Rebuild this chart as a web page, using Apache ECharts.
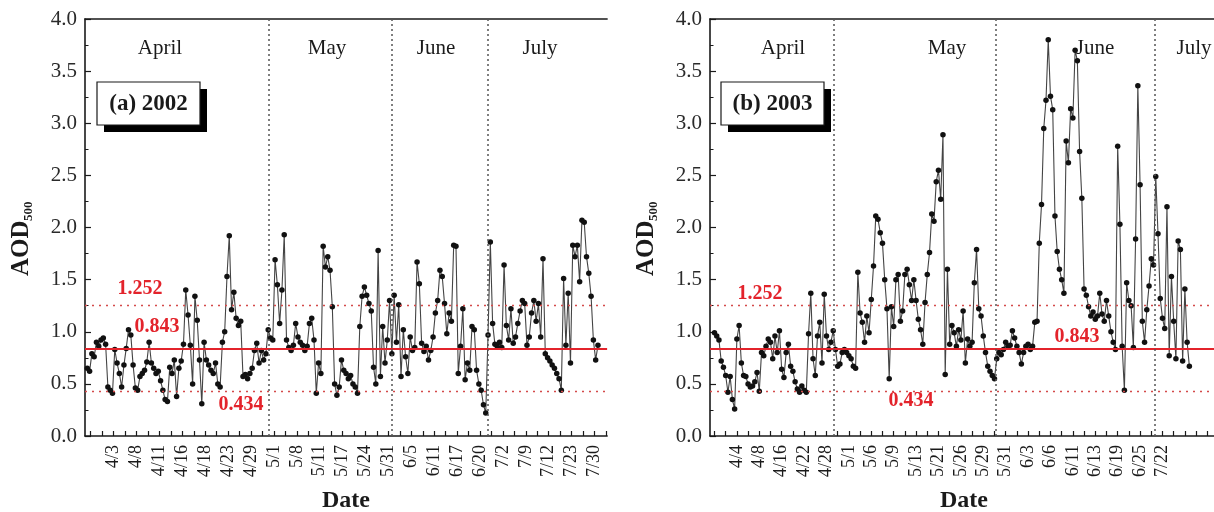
<!DOCTYPE html>
<html><head><meta charset="utf-8">
<script src="https://cdn.jsdelivr.net/npm/echarts@6/dist/echarts.min.js"></script>
<style>html,body{margin:0;padding:0;background:#fff}#c{width:1214px;height:512px}</style>
</head><body><div id="c"></div>
<script>
// ---- data (observation order; x = index + start) ----
const aod2002 = [
0.65,0.62,0.79,0.76,0.90,0.86,0.92,0.94,0.88,0.47,0.44,0.41,0.83,0.70,0.60,0.47,0.68,0.84,1.02,0.97,
0.68,0.46,0.44,0.57,0.60,0.63,0.71,0.90,0.70,0.65,0.60,0.62,0.53,0.44,0.35,0.33,0.66,0.60,0.73,0.38,
0.65,0.72,0.88,1.40,1.16,0.87,0.50,1.34,1.11,0.73,0.31,0.90,0.73,0.68,0.63,0.60,0.70,0.50,0.47,0.90,
1.00,1.53,1.92,1.21,1.38,1.13,1.06,1.10,0.57,0.59,0.55,0.60,0.65,0.82,0.89,0.70,0.82,0.73,0.79,1.02,
0.94,0.92,1.69,1.45,1.08,1.40,1.93,0.92,0.85,0.82,0.87,1.08,0.95,0.90,0.87,0.82,0.86,1.08,1.13,0.92,
0.41,0.70,0.60,1.82,1.62,1.72,1.59,1.24,0.50,0.39,0.47,0.73,0.63,0.60,0.55,0.58,0.50,0.47,0.41,1.05,
1.34,1.43,1.35,1.27,1.20,0.66,0.50,1.78,0.57,1.05,0.70,0.92,1.30,0.79,1.35,0.90,1.26,0.57,1.02,0.76,
0.60,0.95,0.82,0.85,1.67,1.46,0.89,0.81,0.86,0.73,0.82,0.95,1.18,1.30,1.59,1.53,1.27,0.98,1.18,1.10,
1.83,1.82,0.60,0.86,1.22,0.54,0.70,0.63,1.05,1.02,0.63,0.50,0.44,0.30,0.22,0.97,1.86,1.08,0.88,0.86,
0.90,0.85,1.64,1.06,0.92,1.22,0.89,0.95,1.08,1.20,1.30,1.27,0.87,0.95,1.18,1.30,1.10,1.27,0.95,1.70,
0.79,0.75,0.72,0.68,0.65,0.60,0.55,0.44,1.51,0.87,1.37,0.70,1.83,1.72,1.83,1.48,2.07,2.05,1.72,1.56,
1.34,0.92,0.73,0.87];
const aod2003 = [
0.99,0.96,0.92,0.72,0.66,0.58,0.42,0.57,0.35,0.26,0.93,1.06,0.70,0.58,0.57,0.50,0.47,0.48,0.52,0.61,
0.43,0.80,0.77,0.86,0.93,0.90,0.74,0.96,0.80,1.01,0.64,0.56,0.80,0.88,0.67,0.62,0.52,0.45,0.42,0.48,
0.44,0.42,0.98,1.37,0.74,0.58,0.96,1.09,0.70,1.36,0.96,0.83,0.90,1.01,0.83,0.67,0.69,0.80,0.83,0.80,
0.77,0.74,0.67,0.65,1.57,1.18,1.09,0.90,1.15,0.99,1.31,1.63,2.11,2.08,1.95,1.85,1.50,1.22,0.55,1.24,
1.05,1.50,1.55,1.10,1.20,1.55,1.60,1.45,1.30,1.50,1.30,1.12,1.02,0.88,1.28,1.55,1.76,2.13,2.06,2.44,
2.55,2.27,2.89,0.59,1.60,0.88,1.06,0.99,0.86,1.02,0.92,1.20,0.70,0.93,0.86,0.90,1.47,1.79,1.22,1.15,
0.96,0.80,0.67,0.62,0.58,0.55,0.74,0.80,0.78,0.83,0.90,0.86,0.87,1.01,0.94,0.86,0.80,0.69,0.80,0.86,
0.88,0.83,0.86,1.09,1.10,1.85,2.22,2.95,3.22,3.80,3.26,3.13,2.11,1.77,1.60,1.50,1.37,2.83,2.62,3.14,
3.05,3.70,3.60,2.73,2.28,1.41,1.35,1.24,1.15,1.19,1.12,1.15,1.37,1.17,1.10,1.30,1.15,1.00,0.90,0.83,
2.78,2.03,0.86,0.44,1.47,1.30,1.25,0.85,1.89,3.36,2.41,1.10,0.90,1.21,1.44,1.70,1.64,2.49,1.94,1.32,
1.13,1.03,2.20,0.77,1.53,1.10,0.74,1.87,1.79,0.72,1.41,0.90,0.67];
const start2002 = 1, start2003 = 2;
const tickLabels2002 = ['4/3','4/8','4/11','4/16','4/18','4/23','4/29','5/1','5/8','5/11','5/17','5/24','5/31','6/5','6/11','6/17','6/20','7/2','7/9','7/12','7/23','7/30'];
const tickLabels2003 = ['4/4','4/8','4/16','4/22','4/28','5/1','5/6','5/9','5/13','5/21','5/26','5/29','5/31','6/3','6/6','6/11','6/13','6/19','6/25','7/22',''];
const firstLabel2002 = 12.5, firstLabel2003 = 12;
const monthBreaks2002 = [80.3, 134.1, 175.9];
const monthBreaks2003 = [55.3, 127.7, 198.7];
const months = ['April','May','June','July'];
const refMean = 0.843, refHigh = 1.252, refLow = 0.434;
const yTicks = {min:0, max:4, interval:0.5};

// ---- chart ----
const FONT = 'Liberation Serif';
const INK = '#1a1a1a';
function xAxisFor(g, max, first, labels){
  const labelPos = labels.map((_,k)=>first+10*k);
  const tickPos = [];
  for (let v = first % 5; v <= max; v += 5) tickPos.push(v);
  return {
    type:'value', gridIndex:g, min:0, max:max,
    axisLine:{show:true, onZero:false, lineStyle:{color:INK, width:1.6}},
    axisTick:{show:true, inside:true, length:5, customValues:tickPos, lineStyle:{color:INK, width:1.2}},
    axisLabel:{show:true, customValues:labelPos, rotate:90, fontSize:18, fontFamily:FONT, color:INK, margin:9,
      formatter:(v)=>{const k=Math.round((v-first)/10); return labels[k]||'';}},
    splitLine:{show:false}
  };
}
function topAxis(g, max){
  return {type:'value', gridIndex:g, position:'top', min:0, max:max,
    axisLine:{show:true, onZero:false, lineStyle:{color:INK, width:1.6}},
    axisTick:{show:false}, axisLabel:{show:false}, splitLine:{show:false}};
}
function yAxisFor(g){
  return {type:'value', gridIndex:g, min:yTicks.min, max:yTicks.max, interval:yTicks.interval,
    axisLine:{show:true, onZero:false, lineStyle:{color:INK, width:1.6}},
    axisTick:{show:true, inside:true, length:6, lineStyle:{color:INK, width:1.2}},
    minorTick:{show:true, splitNumber:2, length:3.5, lineStyle:{color:INK, width:1}},
    axisLabel:{fontSize:21, fontFamily:FONT, color:'#2a2a2a', margin:8, formatter:(v)=>v.toFixed(1)},
    splitLine:{show:false}};
}
function dataSeries(ax, values, start){
  return {type:'line', xAxisIndex:ax, yAxisIndex:ax, data:values.map((v,i)=>[i+start, v]),
    symbol:'circle', symbolSize:5.5, showSymbol:true, showAllSymbol:true,
    lineStyle:{color:'#444', width:1.1}, itemStyle:{color:'#111'}, z:3, animation:false, silent:true};
}
function refSeries(ax, breaks){
  const d = [
    {yAxis:refHigh, lineStyle:{color:'#d44a4a', width:1.3, type:[2,5]}},
    {yAxis:refLow, lineStyle:{color:'#d44a4a', width:1.3, type:[2,5]}},
    {yAxis:refMean, lineStyle:{color:'#e3232b', width:2.2, type:'solid'}}
  ];
  breaks.forEach(b=>d.push({xAxis:b, lineStyle:{color:'#555', width:1.5, type:[2,3]}}));
  return {type:'line', xAxisIndex:ax, yAxisIndex:ax, data:[], z:4, animation:false,
    markLine:{silent:true, symbol:'none', label:{show:false}, animation:false, data:d}};
}
function txt(x,y,text,size,opts){
  opts = opts||{};
  return {type:'text', x:x, y:y, z:100, rotation:opts.rot||0, style:{text:text,
    font:(opts.bold?'bold ':'')+size+'px "'+FONT+'"', fill:opts.color||INK,
    align:opts.align||'center', verticalAlign:'middle', textAlign:opts.align||'center', textVerticalAlign:'middle'}};
}
function box(x,y,w,h,label){
  return [
    {type:'rect', z:90, shape:{x:x+7,y:y+7,width:w,height:h}, style:{fill:'#000'}},
    {type:'rect', z:91, shape:{x:x,y:y,width:w,height:h}, style:{fill:'#fff', stroke:INK, lineWidth:1.2}},
    txt(x+w/2, y+h/2+1, label, 23, {bold:true})
  ];
}
function yTitle(x,y){
  return {type:'group', x:x, y:y, rotation:Math.PI/2, z:100, children:[
    {type:'text', x:-36, y:0, style:{text:'AOD', font:'bold 25px "'+FONT+'"', fill:INK, align:'left', verticalAlign:'middle', textAlign:'left', textVerticalAlign:'middle'}},
    {type:'text', x:19, y:7, style:{text:'500', font:'bold 13px "'+FONT+'"', fill:INK, align:'left', verticalAlign:'middle', textAlign:'left', textVerticalAlign:'middle'}}
  ]};
}
const maxA = 228, maxB = 225;
const option = {
  backgroundColor:'#fff', animation:false,
  grid:[
    {left:85, top:19, width:maxA*2.29, height:417},
    {left:710, top:19, width:maxB*2.35, height:417}
  ],
  xAxis:[xAxisFor(0,maxA,firstLabel2002,tickLabels2002), xAxisFor(1,maxB,firstLabel2003,tickLabels2003), topAxis(0,maxA), topAxis(1,maxB)],
  yAxis:[yAxisFor(0), yAxisFor(1)],
  series:[refSeries(0,monthBreaks2002), refSeries(1,monthBreaks2003), dataSeries(0,aod2002,start2002), dataSeries(1,aod2003,start2003)],
  graphic:[].concat(
    [txt(160,48,months[0],21), txt(327,48,months[1],21), txt(436,48,months[2],21), txt(540,48,months[3],21)],
    [txt(783,48,months[0],21), txt(947,48,months[1],21), txt(1095,48,months[2],21), txt(1194,48,months[3],21)],
    box(97,82,103,43,'(a) 2002'), box(721,82,103,43,'(b) 2003'),
    [txt(140,289,refHigh.toFixed(3),20,{bold:true,color:'#e3232b'}), txt(157,327,refMean.toFixed(3),20,{bold:true,color:'#e3232b'}), txt(241,405,refLow.toFixed(3),20,{bold:true,color:'#e3232b'})],
    [txt(760,294,refHigh.toFixed(3),20,{bold:true,color:'#e3232b'}), txt(1077,337,refMean.toFixed(3),20,{bold:true,color:'#e3232b'}), txt(911,401,refLow.toFixed(3),20,{bold:true,color:'#e3232b'})],
    [yTitle(22,240), yTitle(647,240)],
    [txt(346,501,'Date',24,{bold:true}), txt(964,501,'Date',24,{bold:true})]
  )
};
const chart = echarts.init(document.getElementById('c'), null, {renderer:'canvas'});
chart.setOption(option);
</script></body></html>
